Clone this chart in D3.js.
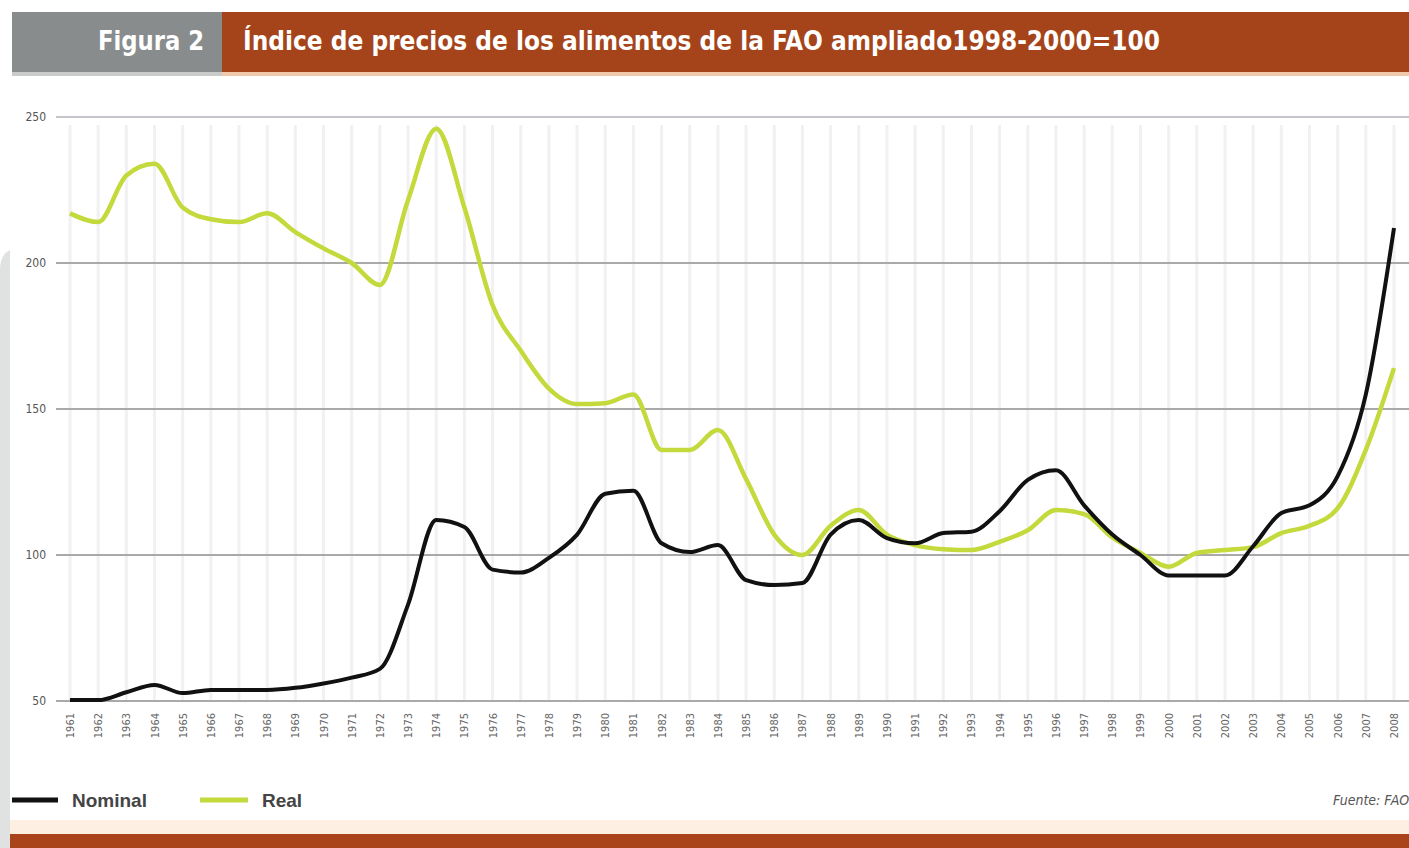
<!DOCTYPE html>
<html>
<head>
<meta charset="utf-8">
<script src="https://cdn.jsdelivr.net/npm/d3@7"></script>
<style>
  body { margin: 0; background: #fff; overflow: hidden; }
  svg { display: block; }
</style>
</head>
<body>
<svg id="chart"></svg>
<script>
// datos
const years = d3.range(1961, 2009)
const nominal = [50.3, 50.3, 53, 55.5, 52.7, 53.8, 53.8, 53.8, 54.5, 56, 58, 61,
  83, 112, 109.6, 95, 94, 99, 107, 121, 122, 104, 101, 103.4,
  91.4, 89.7, 90.4, 107, 112, 105.8, 104, 107.5, 108, 115, 125.7, 129,
  117, 107, 100, 93, 93, 93, 103, 114.4, 117, 127, 155, 212]
const real = [217, 214, 230, 234, 219, 215, 214, 217, 210.6, 205, 200, 192.5,
  221.6, 246, 219, 185.6, 170, 157, 151.7, 152, 155, 136, 136, 142.8,
  126, 107, 100, 110, 115.4, 107, 103.4, 102, 101.7, 104.5, 108.5, 115.4,
  114, 106, 100.7, 96, 100.7, 101.7, 102.7, 107.5, 110, 116, 136, 164]
const yTicks = [50, 100, 150, 200, 250]

const W = 1409, H = 848
const svg = d3.select("#chart").attr("width", W).attr("height", H)

// marco: tira gris izquierda y barra inferior
svg.append("path")
  .attr("d", "M0,270 Q0,255 10,250 L10,848 L0,848 Z")
  .attr("fill", "#dfe2e1")
svg.append("rect").attr("x", 10).attr("y", 820).attr("width", W - 10).attr("height", 14).attr("fill", "#fdf0e3")
svg.append("rect").attr("x", 10).attr("y", 834).attr("width", W - 10).attr("height", 14).attr("fill", "#a9441a")

// cabecera
svg.append("rect").attr("x", 12).attr("y", 12).attr("width", 212).attr("height", 60).attr("fill", "#898c8d")
svg.append("rect").attr("x", 222).attr("y", 12).attr("width", W - 222).attr("height", 60).attr("fill", "#a5441a")
svg.append("rect").attr("x", 12).attr("y", 72).attr("width", 212).attr("height", 4).attr("fill", "#c9cbcb")
svg.append("rect").attr("x", 222).attr("y", 72).attr("width", W - 222).attr("height", 4).attr("fill", "#f0c9ad")

svg.append("text")
  .attr("x", 98).attr("y", 50)
  .attr("font-family", "'DejaVu Sans Condensed', sans-serif")
  .attr("font-weight", "bold").attr("font-size", 26)
  .attr("fill", "#fff")
  .attr("textLength", 106).attr("lengthAdjust", "spacingAndGlyphs")
  .text("Figura 2")
svg.append("text")
  .attr("x", 243).attr("y", 50)
  .attr("font-family", "'DejaVu Sans Condensed', sans-serif")
  .attr("font-weight", "bold").attr("font-size", 26)
  .attr("fill", "#fff")
  .attr("textLength", 917).attr("lengthAdjust", "spacingAndGlyphs")
  .text("Índice de precios de los alimentos de la FAO ampliado1998-2000=100")

// escalas
const x = d3.scaleLinear().domain([1961, 2008]).range([70, 1394])
const y = d3.scaleLinear().domain([50, 250]).range([701, 117])

// rejilla vertical (años)
svg.append("g").selectAll("line")
  .data(years).join("line")
  .attr("x1", d => x(d)).attr("x2", d => x(d))
  .attr("y1", 125).attr("y2", 700)
  .attr("stroke", "#f1f1f3").attr("stroke-width", 3)

// rejilla horizontal
svg.append("g").selectAll("line")
  .data(yTicks).join("line")
  .attr("x1", 56).attr("x2", W)
  .attr("y1", d => y(d)).attr("y2", d => y(d))
  .attr("stroke", d => d === 250 ? "#c4c4ca" : "#a9a9a9")
  .attr("stroke-width", 2)

// etiquetas eje y
svg.append("g").selectAll("text")
  .data(yTicks).join("text")
  .attr("x", 46).attr("y", d => y(d) + 4)
  .attr("text-anchor", "end")
  .attr("font-family", "'DejaVu Sans Condensed', sans-serif")
  .attr("font-size", 12)
  .attr("fill", "#555")
  .text(d => d)

// etiquetas eje x (giradas)
svg.append("g").selectAll("text")
  .data(years).join("text")
  .attr("transform", d => `translate(${x(d) + 4},${713}) rotate(-90)`)
  .attr("text-anchor", "end")
  .attr("font-family", "'DejaVu Sans Condensed', sans-serif")
  .attr("font-size", 11)
  .attr("fill", "#666")
  .text(d => d)

// lineas
const line = d3.line().x((d, i) => x(years[i])).y(d => y(d)).curve(d3.curveMonotoneX)

svg.append("path")
  .datum(real)
  .attr("d", line)
  .attr("fill", "none")
  .attr("stroke", "#c4d93c")
  .attr("stroke-width", 4.5)
  .attr("stroke-linejoin", "round")

svg.append("path")
  .datum(nominal)
  .attr("d", line)
  .attr("fill", "none")
  .attr("stroke", "#111")
  .attr("stroke-width", 4)
  .attr("stroke-linejoin", "round")

// leyenda
const legend = [
  {label: "Nominal", color: "#111", x0: 12, x1: 58, tx: 72},
  {label: "Real", color: "#c4d93c", x0: 200, x1: 248, tx: 262}
]
const lg = svg.append("g")
lg.selectAll("line").data(legend).join("line")
  .attr("x1", d => d.x0).attr("x2", d => d.x1)
  .attr("y1", 800).attr("y2", 800)
  .attr("stroke", d => d.color).attr("stroke-width", 5)
lg.selectAll("text").data(legend).join("text")
  .attr("x", d => d.tx).attr("y", 807)
  .attr("font-family", "'Liberation Sans', sans-serif")
  .attr("font-weight", "bold").attr("font-size", 19)
  .attr("fill", "#444")
  .text(d => d.label)

// fuente (cortada en el borde derecho, como en el original)
svg.append("text")
  .attr("x", 1333).attr("y", 805)
  .attr("font-family", "'DejaVu Sans Condensed', sans-serif")
  .attr("font-style", "italic").attr("font-size", 14)
  .attr("fill", "#555")
  .text("Fuente: FAO")
</script>
</body>
</html>
